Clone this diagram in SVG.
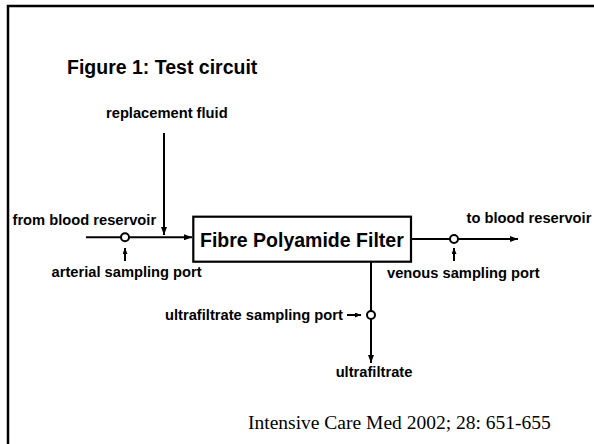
<svg xmlns="http://www.w3.org/2000/svg" width="594" height="444" viewBox="0 0 594 444">
<style>
.lbl{font-family:"Liberation Sans",Arial,sans-serif;font-weight:bold;font-size:14.7px;fill:#000}
.big{font-family:"Liberation Sans",Arial,sans-serif;font-weight:bold;font-size:19.5px;fill:#000}
.cite{font-family:"Liberation Serif","Times New Roman",serif;font-size:19.5px;fill:#000}
.ln{stroke:#000;stroke-width:2;fill:none}
.port{stroke:#000;stroke-width:2;fill:#fff}
</style>
<defs>
<marker id="ah" markerWidth="8" markerHeight="6" refX="8" refY="3" orient="auto" markerUnits="userSpaceOnUse">
<path d="M0,0 L8,3 L0,6 Z" fill="#000"/>
</marker>
<marker id="ahs" markerWidth="6" markerHeight="5" refX="6" refY="2.5" orient="auto" markerUnits="userSpaceOnUse">
<path d="M0,0 L6,2.5 L0,5 Z" fill="#000"/>
</marker>
</defs>
<rect width="594" height="444" fill="#fff"/>
<g id="frame">
<path d="M8,444 V6 H594" stroke="#000" stroke-width="2.5" fill="none"/>
</g>
<text class="big" x="67" y="74">Figure 1: Test circuit</text>
<g id="connectors">
<path class="ln" d="M86,237.3 H192" marker-end="url(#ah)"/>
<path class="ln" d="M164,133 V235" marker-end="url(#ah)"/>
<path class="ln" d="M125,261 V248" stroke-width="1.5" marker-end="url(#ahs)"/>
<path class="ln" d="M411,239 H518" marker-end="url(#ah)"/>
<path class="ln" d="M454,261 V248" stroke-width="1.5" marker-end="url(#ahs)"/>
<path class="ln" d="M371,262 V363" marker-end="url(#ah)"/>
<path class="ln" d="M347,315 H361" stroke-width="1.5" marker-end="url(#ahs)"/>
</g>
<g id="replacement"><text class="lbl" x="106" y="118">replacement fluid</text></g>
<g id="from-reservoir"><text class="lbl" x="12.5" y="225">from blood reservoir</text></g>
<g id="arterial-port">
<circle class="port" cx="125" cy="237.3" r="4"/>
<text class="lbl" x="51.5" y="277">arterial sampling port</text>
</g>
<g id="filter">
<rect x="193.3" y="216.7" width="217.7" height="45" fill="#fff" stroke="#000" stroke-width="2.2"/>
<text class="big" x="200" y="246.5">Fibre Polyamide Filter</text>
</g>
<g id="venous-port">
<circle class="port" cx="454" cy="239" r="4"/>
<text class="lbl" x="387" y="278">venous sampling port</text>
</g>
<g id="to-reservoir"><text class="lbl" x="466.5" y="223">to blood reservoir</text></g>
<g id="uf-port">
<circle class="port" cx="371" cy="315" r="4"/>
<text class="lbl" x="165" y="320">ultrafiltrate sampling port</text>
</g>
<g id="ultrafiltrate"><text class="lbl" x="374" y="377" text-anchor="middle">ultrafiltrate</text></g>
<text class="cite" x="248" y="429">Intensive Care Med 2002; 28: 651-655</text>
</svg>
